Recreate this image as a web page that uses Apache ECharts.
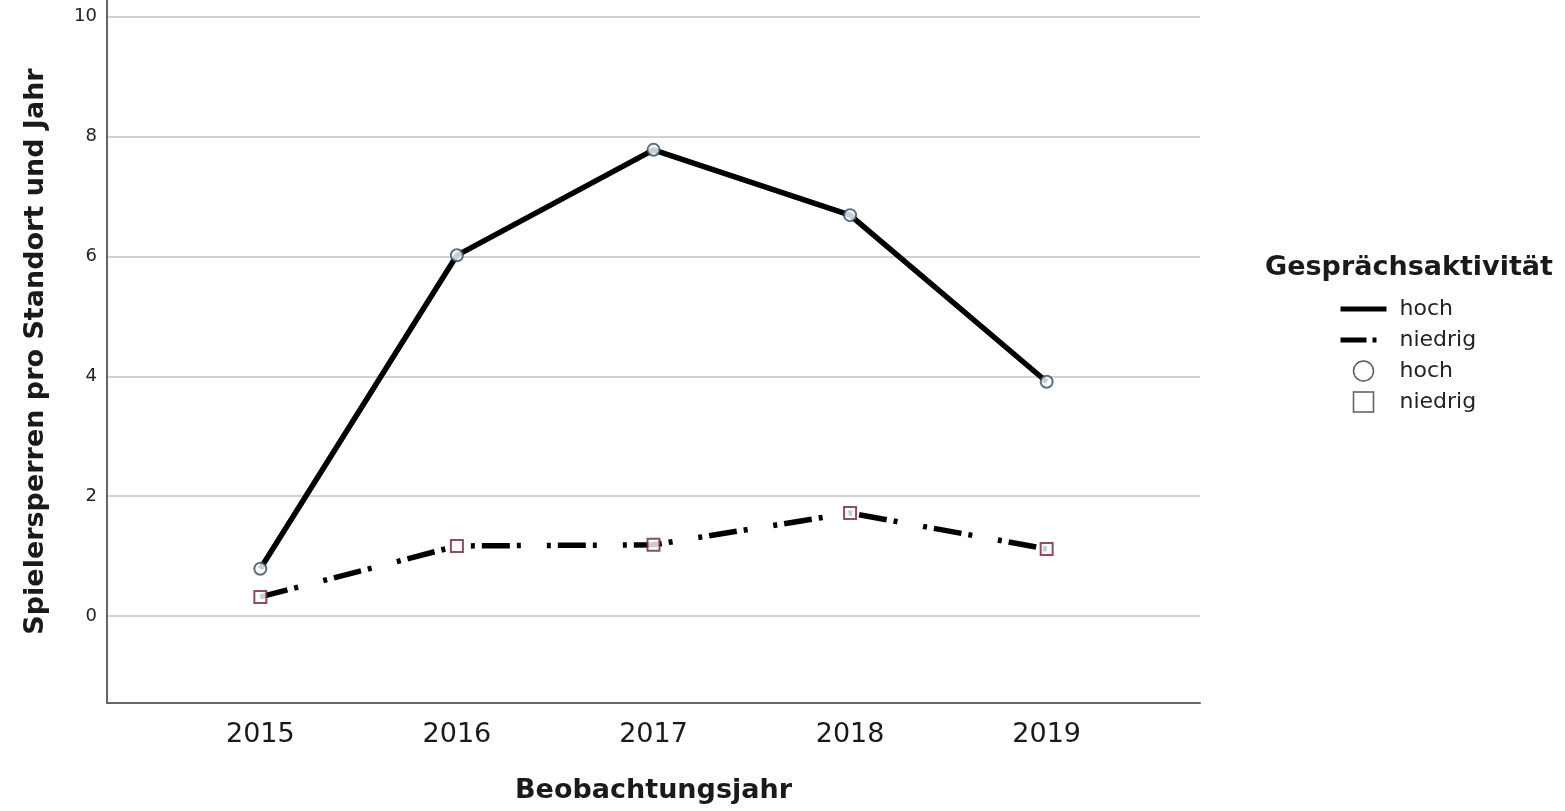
<!DOCTYPE html>
<html>
<head>
<meta charset="utf-8">
<script src="https://cdn.jsdelivr.net/npm/echarts@6/dist/echarts.min.js"></script>
<style>
html, body { margin: 0; padding: 0; background: #fff; }
#main { width: 1565px; height: 811px; }
</style>
</head>
<body>
<div id="main"></div>
<script>
// values
var years = [2015, 2016, 2017, 2018, 2019];
var hoch = [0.79, 6.02, 7.78, 6.69, 3.91];
var niedrig = [0.32, 1.17, 1.19, 1.72, 1.12];
var yTicks = [0, 2, 4, 6, 8, 10];

var FONT = 'DejaVu Sans';
var dashDot = [28, 7, 4, 26, 4, 7];

function pairs(vals) {
    return years.map(function (y, i) { return [y, vals[i]]; });
}

var chartDom = document.getElementById('main');
var myChart = echarts.init(chartDom);

var option = {
    animation: false,
    backgroundColor: '#fff',
    textStyle: { fontFamily: FONT },
    grid: { left: 107, right: 365, top: 0, bottom: 108 },
    xAxis: {
        type: 'value',
        min: 2014.22,
        max: 2019.78,
        name: 'Beobachtungsjahr',
        nameLocation: 'middle',
        nameGap: 74,
        nameTextStyle: { fontSize: 27, fontWeight: 'bold', color: '#1a1a1a', fontFamily: FONT },
        axisLine: { show: true, onZero: false, lineStyle: { color: '#666', width: 2 } },
        axisTick: { show: false, customValues: years },
        axisLabel: {
            customValues: years,
            fontSize: 27, color: '#1a1a1a', margin: 18,
            formatter: function (v) { return String(v); }
        },
        splitLine: { show: false }
    },
    yAxis: {
        type: 'value',
        min: -1.45,
        max: 10.28,
        name: 'Spielersperren pro Standort und Jahr',
        nameLocation: 'middle',
        nameGap: 58,
        nameTextStyle: { fontSize: 27, fontWeight: 'bold', color: '#1a1a1a', fontFamily: FONT },
        axisLine: { show: true, onZero: false, lineStyle: { color: '#666', width: 2 } },
        axisTick: { show: false, customValues: yTicks },
        axisLabel: { customValues: yTicks, fontSize: 18, color: '#222', margin: 10 },
        splitLine: { show: true, lineStyle: { color: '#d2d2d2', width: 2 } }
    },
    legend: {
        orient: 'vertical',
        left: 1333,
        top: 293,
        itemWidth: 46,
        itemHeight: 20,
        itemGap: 9,
        selectedMode: false,
        textStyle: { fontSize: 22, color: '#222', fontFamily: FONT, padding: [0, 0, 0, 8] },
        formatter: function (n) { return n.trim(); },
        data: [
            { name: 'hoch', itemStyle: { color: 'rgba(0,0,0,0)', borderWidth: 0 },
              lineStyle: { color: '#000', width: 5, type: 'solid' } },
            { name: 'niedrig', itemStyle: { color: 'rgba(0,0,0,0)', borderWidth: 0 },
              lineStyle: { color: '#000', width: 5, type: [26, 6, 4, 40] } },
            { name: 'hoch ', icon: 'circle',
              itemStyle: { color: '#fff', borderColor: '#333', borderWidth: 1.5 } },
            { name: 'niedrig ', icon: 'path://M0,0L10,0L10,10L0,10Z',
              itemStyle: { color: '#fff', borderColor: '#333', borderWidth: 1.5 } }
        ]
    },
    graphic: [{
        type: 'text',
        style: {
            text: 'Gesprächsaktivität',
            x: 1409, y: 268,
            textAlign: 'center', textVerticalAlign: 'middle',
            font: 'bold 27px "' + FONT + '"',
            fill: '#1a1a1a'
        }
    }],
    series: [
        {
            name: 'hoch',
            type: 'line',
            data: pairs(hoch),
            symbol: 'none',
            z: 2,
            lineStyle: { color: '#000', width: 5.5, type: 'solid', join: 'round' }
        },
        {
            name: 'niedrig',
            type: 'line',
            data: pairs(niedrig),
            symbol: 'none',
            z: 2,
            lineStyle: { color: '#000', width: 5.5, type: dashDot, cap: 'butt' }
        },
        {
            name: 'hoch ',
            type: 'scatter',
            data: pairs(hoch),
            symbol: 'circle',
            symbolSize: 12,
            z: 3,
            itemStyle: { color: '#fff', borderColor: '#2b4b68', borderWidth: 2 }
        },
        {
            name: 'niedrig ',
            type: 'scatter',
            data: pairs(niedrig),
            symbol: 'rect',
            symbolSize: 12,
            z: 3,
            itemStyle: { color: '#fff', borderColor: '#6e2040', borderWidth: 2 }
        }
    ]
};

option && myChart.setOption(option);
</script>
</body>
</html>
